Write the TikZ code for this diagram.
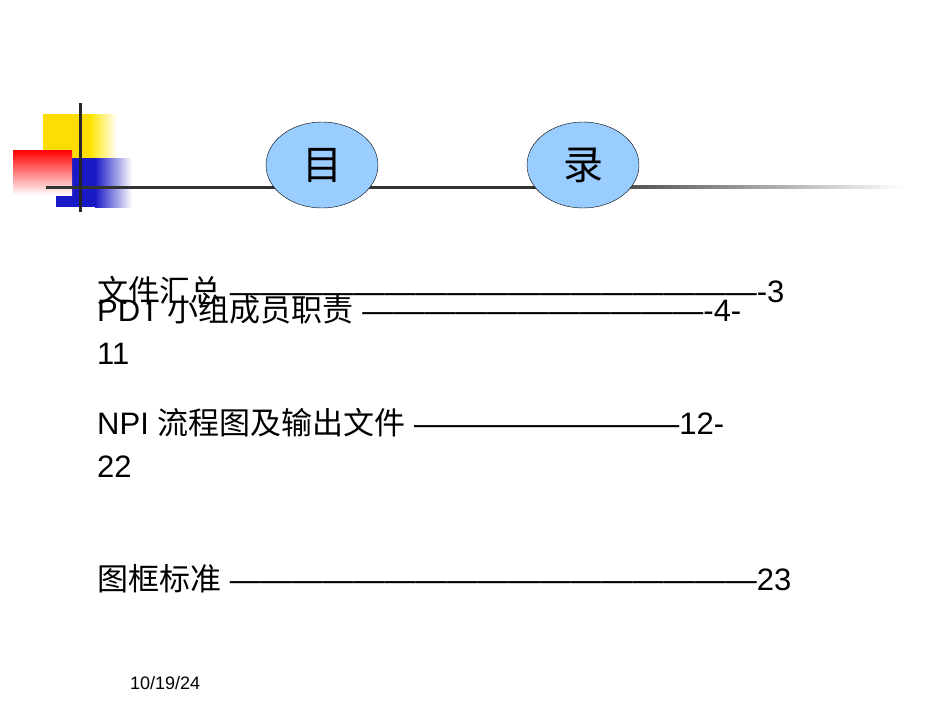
\documentclass[tikz,border=0pt]{standalone}
\usepackage{fontspec}
\usetikzlibrary{shapes.geometric,shadings}
\setmainfont{Liberation Sans}
\newfontfamily\cjk{Noto Sans CJK SC}
\begin{document}
\begin{tikzpicture}[x=1pt,y=-1pt,
  oval/.style={ellipse, draw=black, fill={rgb,255:red,153;green,204;blue,255}, minimum width=112pt, minimum height=86pt, inner sep=0pt, font=\cjk\fontsize{40}{40}\selectfont},
  entry/.style={anchor=base west, inner sep=0pt, font=\fontsize{31}{31}\selectfont, align=left}]
\useasboundingbox (0,0) rectangle (950,713);
\fill[white] (0,0) rectangle (950,713);
% decoration
\fill[yellow!80!orange] (43,114) rectangle (90,158);
\shade[left color=yellow!80!orange, right color=white] (90,114) rectangle (117,158);
\fill[blue!75!black!90] (56,158) rectangle (95,207);
\shade[left color=blue!75!black!90, right color=white] (95,158) rectangle (132,207);
\shade[shading=axis, shading angle=225, top color=red, bottom color=white] (13,150) rectangle (72,195);
\draw[line width=3pt, black!80] (46,187) -- (600,187);
\shade[left color=black!75, right color=white] (600,185.5) rectangle (905,188.5);
\draw[line width=3pt, black!85] (80,103) -- (80,212);
\node[oval] (mu) at (322,165) {目};
\node[oval] (lu) at (583,165) {录};
% entries
\node[entry] (e1) at (97,302) {{\cjk 文件汇总} ----------------------------------------------------3};
\node[entry] (e2) at (97,364) {PDT {\cjk 小组成员职责} ----------------------------------4-\\[12pt]11};
\node[entry] (e3) at (97,477) {NPI {\cjk 流程图及输出文件} --------------------------12-\\[12pt]22};
\node[entry] (e4) at (97,590) {{\cjk 图框标准} ---------------------------------------------------23};
\node[anchor=base west, inner sep=0pt, font=\fontsize{18}{18}\selectfont] (d) at (130,689) {10/19/24};
\end{tikzpicture}
\end{document}
